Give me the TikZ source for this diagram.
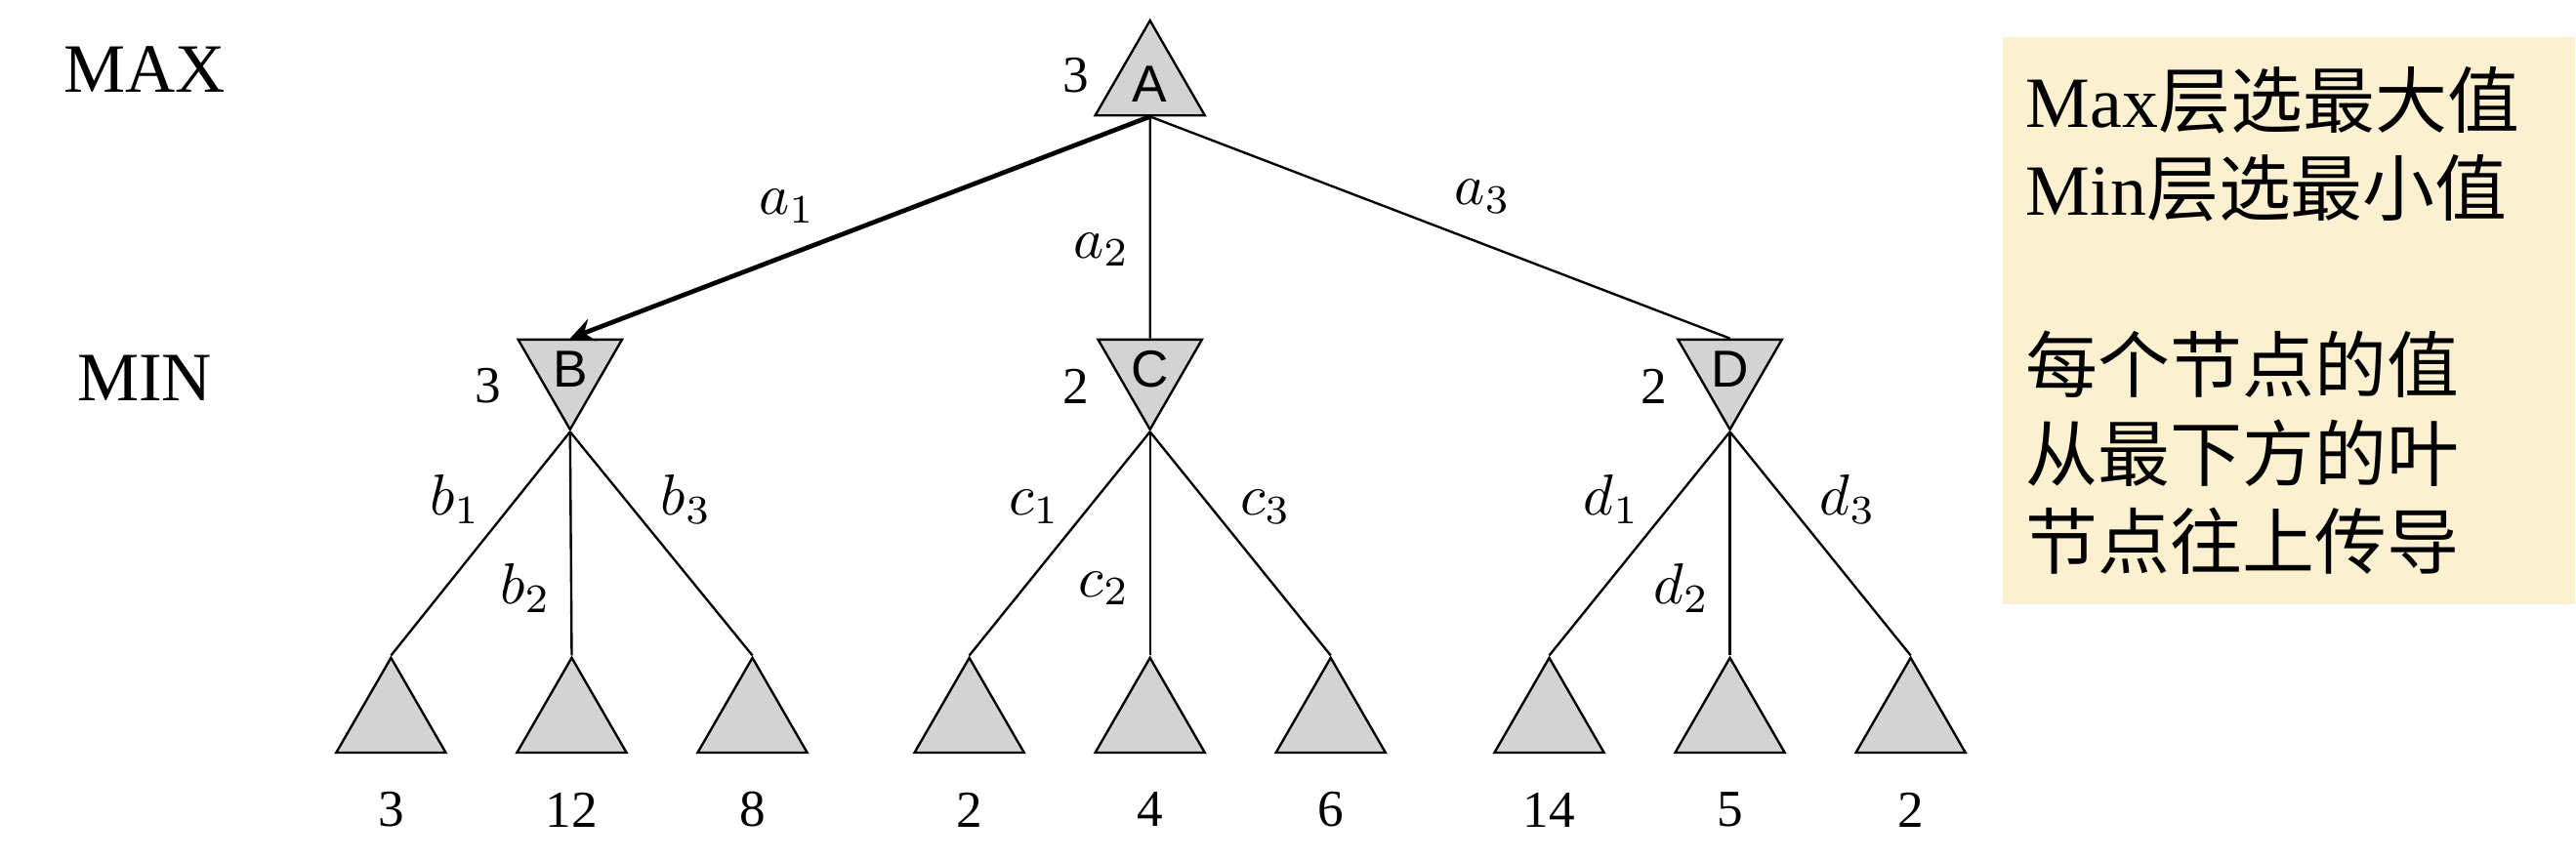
\documentclass[tikz,border=0pt]{standalone}
\usepackage{fontspec}
\setmainfont{Liberation Serif}
\setsansfont{Liberation Sans}
\newfontfamily\cjk{Noto Sans CJK SC}
\usetikzlibrary{shapes.geometric,arrows}
\definecolor{boxyellow}{HTML}{FBF0CF}
\definecolor{tri}{HTML}{D3D3D3}
\begin{document}
\begin{tikzpicture}
	\tikzstyle{up} = [regular polygon, regular polygon sides=3, minimum size=0.77cm, inner sep=0pt, draw=black, fill=tri, font=\sffamily\small]
	\tikzstyle{down} = [up, shape border rotate=180, minimum size=0.73cm]
	\tikzstyle{leaf} = [up]
	\tikzstyle{val} = [font=\small]
	\tikzstyle{lbl} = [font=\normalsize\itshape]
	\tikzstyle{arrow} = [thick,->,>=stealth]
  \useasboundingbox (0,0) rectangle (15.68,5.24);
  \node[font=\large] (max) at (0.88,4.82) {MAX};
  \node[font=\large] (min) at (0.88,2.94) {MIN};
  \node (A) [up] at (7.00,4.73) {A};
  \node (B) [down] at (3.47,2.99) {B};
  \node (C) [down] at (7.00,2.99) {C};
  \node (D) [down] at (10.53,2.99) {D};
  \node[val] at (6.55,4.78) {3};
  \node[val] at (2.97,2.89) {3};
  \node[val] at (6.55,2.89) {2};
  \node[val] at (10.07,2.89) {2};
  \foreach \p/\x/\v in {b1/2.38/3, b2/3.48/12, b3/4.58/8, c1/5.90/2, c2/7.00/4, c3/8.10/6, d1/9.43/14, d2/10.53/5, d3/11.63/2}{
    \node (\p) [leaf] at (\x,0.85) {};
    \node[val] at (\x,0.31) {\v};
  }

  \draw [arrow] (A.south) -- node[lbl,pos=0.55,above left=-1pt]{$a_1$} (B.north);
  \draw (A.south) -- node[lbl,pos=0.6,left]{$a_2$} (C.north);
  \draw (A.south) -- node[lbl,pos=0.5,above right=-1pt]{$a_3$} (D.north);
  \foreach \n/\l in {B/b, C/c, D/d}{
    \draw (\n.corner 1) -- node[lbl,pos=0.45,above left=-2pt]{$\l_1$} (\l1.corner 1);
    \draw (\n.corner 1) -- node[lbl,pos=0.7,left]{$\l_2$} (\l2.corner 1);
    \draw (\n.corner 1) -- node[lbl,pos=0.45,above right=-2pt]{$\l_3$} (\l3.corner 1);
  }

  \node (note) [fill=boxyellow, text width=3.2cm, inner xsep=0.14cm, minimum height=3.45cm, anchor=north east, align=left, font=\fontsize{12.5}{15.3}\selectfont] at (15.68,5.02)
    {Max{\cjk 层选最大值}\\Min{\cjk 层选最小值}\\[15.3pt]{\cjk 每个节点的值}\\{\cjk 从最下方的叶}\\{\cjk 节点往上传导}};
\end{tikzpicture}
\end{document}
